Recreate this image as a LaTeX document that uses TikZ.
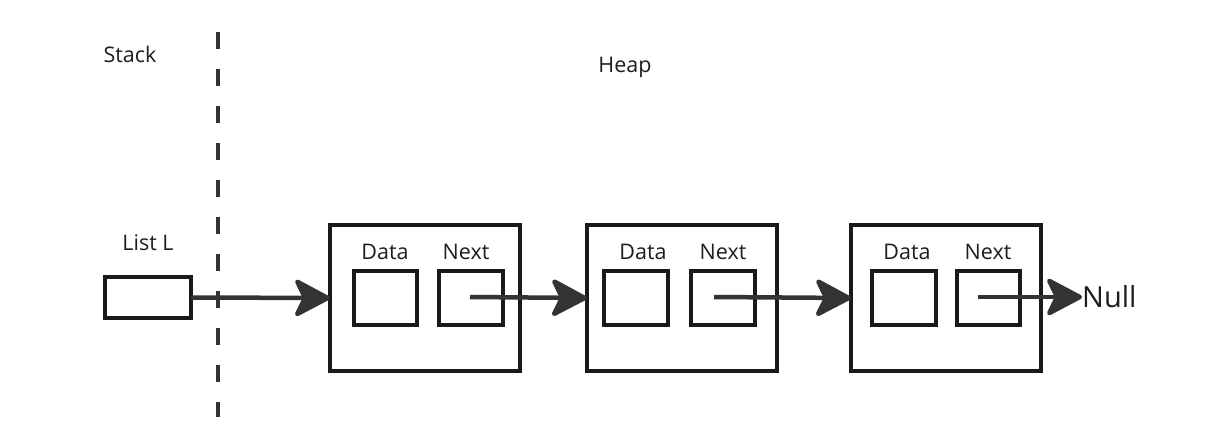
\documentclass[tikz,border=0pt]{standalone}
\usepackage{fontspec}
\setmainfont{Open Sans}
\usetikzlibrary{arrows.meta}
\definecolor{boxc}{HTML}{1A1A1A}
\definecolor{arrc}{HTML}{333333}
\definecolor{txtc}{HTML}{1E1E1E}
\tikzset{
  box/.style={draw=boxc, line width=4pt, inner sep=0pt, outer sep=0pt, fill=white},
  lbl/.style={text=txtc, font=\fontsize{21.5}{25}\selectfont, inner sep=0pt, anchor=base},
  link/.style={draw=arrc, line width=4.5pt, -{Stealth[length=40pt, width=42pt, inset=10pt, round]}},
  divider/.style={draw=arrc, line width=4pt, dash pattern=on 17pt off 20pt}
}
\begin{document}
\begin{tikzpicture}[x=1pt, y=-1pt]
\useasboundingbox[fill=white] (0,0) rectangle (1206,428);
% labels
\node[lbl] (stack) at (130,63) {Stack};
\node[lbl] (heap) at (625,73) {Heap};
\node[lbl] (listlbl) at (148,250) {List L};
% divider
\coordinate (dtop) at (218,32);
\coordinate (dbot) at (218,417);
\draw[divider] (dtop) -- (dbot);
% list L box
\node[box, minimum width=86pt, minimum height=41pt] (L) at (148,297.5) {};
% nodes
\node[box, minimum width=190pt, minimum height=146pt] (n1) at (425,298) {};
\node[box, minimum width=190pt, minimum height=146pt] (n2) at (682,298) {};
\node[box, minimum width=190pt, minimum height=146pt] (n3) at (946,298) {};
% data / next boxes
\node[box, minimum width=63pt, minimum height=54pt] (d1) at (385.5,298) {};
\node[box, minimum width=64pt, minimum height=54pt] (x1) at (471,298) {};
\node[box, minimum width=64pt, minimum height=54pt] (d2) at (636,298) {};
\node[box, minimum width=64pt, minimum height=54pt] (x2) at (723,298) {};
\node[box, minimum width=64pt, minimum height=54pt] (d3) at (904,298) {};
\node[box, minimum width=63pt, minimum height=54pt] (x3) at (988.5,298) {};
% field labels
\node[lbl] (dl1) at (385,259) {Data};
\node[lbl] (nl1) at (466,259) {Next};
\node[lbl] (dl2) at (643,259) {Data};
\node[lbl] (nl2) at (723,259) {Next};
\node[lbl] (dl3) at (907,259) {Data};
\node[lbl] (nl3) at (988,259) {Next};
% null
\node[text=txtc, font=\fontsize{29}{33}\selectfont, inner sep=0pt, anchor=west] (null) at (1082,297) {Null};
% pointer starts
\coordinate (p1) at (470,297);
\coordinate (p2) at (714,297);
\coordinate (p3) at (978,297);
% links
\draw[link] (L.east) -- (n1.west);
\draw[link] (p1) -- (n2.west);
\draw[link] (p2) -- (n3.west);
\draw[link] (p3) -- (null.west);
\end{tikzpicture}
\end{document}
